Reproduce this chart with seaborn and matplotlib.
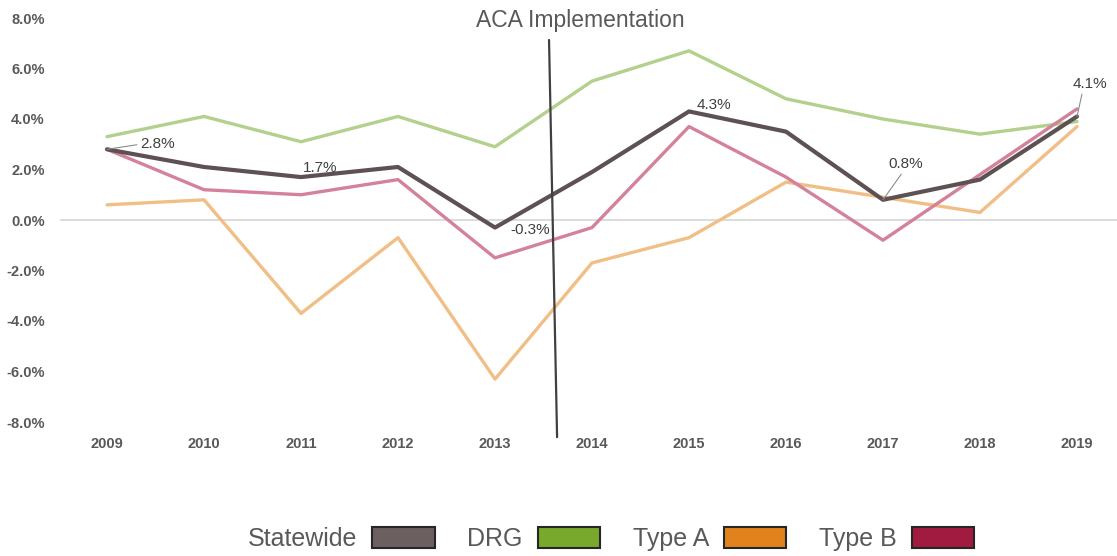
import pandas as pd
import seaborn as sns
import matplotlib.pyplot as plt
from matplotlib.patches import Patch
from matplotlib.ticker import PercentFormatter

years = [2009, 2010, 2011, 2012, 2013, 2014, 2015, 2016, 2017, 2018, 2019]
statewide = [2.8, 2.1, 1.7, 2.1, -0.3, 1.9, 4.3, 3.5, 0.8, 1.6, 4.1]
drg = [3.3, 4.1, 3.1, 4.1, 2.9, 5.5, 6.7, 4.8, 4.0, 3.4, 3.9]
type_a = [0.6, 0.8, -3.7, -0.7, -6.3, -1.7, -0.7, 1.5, 0.9, 0.3, 3.7]
type_b = [2.8, 1.2, 1.0, 1.6, -1.5, -0.3, 3.7, 1.7, -0.8, 1.8, 4.4]

sns.set_style("white")
plt.rcParams['font.family'] = ['Liberation Sans', 'DejaVu Sans']
plt.rcParams['axes.unicode_minus'] = False

df = pd.DataFrame({'Year': years, 'Statewide': statewide, 'DRG': drg,
                   'Type A': type_a, 'Type B': type_b})

fig = plt.figure(figsize=(11.17, 5.56), dpi=100)
ax = fig.add_axes([60 / 1117, 1 - 422 / 556, 1 - 60 / 1117, (422 - 18) / 556])

ax.axhline(0, color='#d9d9d9', lw=1.3, zorder=1)

# lighter tints for the segment lines, solid for statewide
sns.lineplot(data=df, x='Year', y='DRG', color='#b3d08c', lw=2.4, ax=ax)
sns.lineplot(data=df, x='Year', y='Type A', color='#f1bf86', lw=2.4, ax=ax)
sns.lineplot(data=df, x='Year', y='Type B', color='#d4829a', lw=2.4, ax=ax)
sns.lineplot(data=df, x='Year', y='Statewide', color='#5e5153', lw=3.0, ax=ax)

ax.set_xlim(2009 - 47 / 97, 2019 + 40 / 97)
ax.set_ylim(-8, 8)
ax.set_yticks(range(-8, 9, 2))
ax.yaxis.set_major_formatter(PercentFormatter(decimals=1))
ax.set_xticks(years)
ax.set_xlabel('')
ax.set_ylabel('')
sns.despine(ax=ax, left=True, bottom=True)
ax.tick_params(length=0, labelsize=10.5, labelcolor='#595959')
ax.tick_params(axis='x', pad=11)
ax.tick_params(axis='y', pad=11)
for lbl in ax.get_xticklabels() + ax.get_yticklabels():
    lbl.set_fontweight('bold')

# ACA marker
ax.plot([2013.557, 2013.64], [7.13, -8.6], color='#404040', lw=1.6, clip_on=False, zorder=5)
ax.text(2013.876, 7.64, 'ACA Implementation', fontsize=16.5, color='#595959',
        ha='center', va='baseline')

# data labels for statewide
lab = dict(fontsize=11, color='#404040', ha='center', va='center')
arrow = dict(arrowstyle='-', color='#8c8c8c', lw=0.8, shrinkA=0, shrinkB=0)
ax.annotate('2.8%', xy=(2009, statewide[0]), xytext=(2009.52, 3.0),
            arrowprops=dict(arrow, relpos=(0, 0.5)), **lab)
ax.text(2011.2, 2.06, '1.7%', **lab)
ax.text(2013.36, -0.4, '-0.3%', **lab)
ax.text(2015.26, 4.55, '4.3%', **lab)
ax.annotate('0.8%', xy=(2017, statewide[8]), xytext=(2017.23, 2.22),
            arrowprops=dict(arrow, relpos=(0.45, 0)), **lab)
ax.annotate('4.1%', xy=(2019, statewide[10]), xytext=(2019.13, 5.39),
            arrowprops=dict(arrow, relpos=(0.3, 0)), **lab)

handles = [Patch(facecolor='#6b5f5f', edgecolor='#262626', lw=1.5, label='Statewide'),
           Patch(facecolor='#78a92c', edgecolor='#262626', lw=1.5, label='DRG'),
           Patch(facecolor='#e2821c', edgecolor='#262626', lw=1.5, label='Type A'),
           Patch(facecolor='#a11a40', edgecolor='#262626', lw=1.5, label='Type B')]
leg = fig.legend(handles=handles, loc='center', bbox_to_anchor=(0.547, 0.031), ncol=4,
                 frameon=False, markerfirst=False, fontsize=18, handlelength=2.5,
                 handleheight=0.9, columnspacing=1.3, handletextpad=0.6)
for t in leg.get_texts():
    t.set_color('#595959')

plt.savefig('out.png', dpi=100)
